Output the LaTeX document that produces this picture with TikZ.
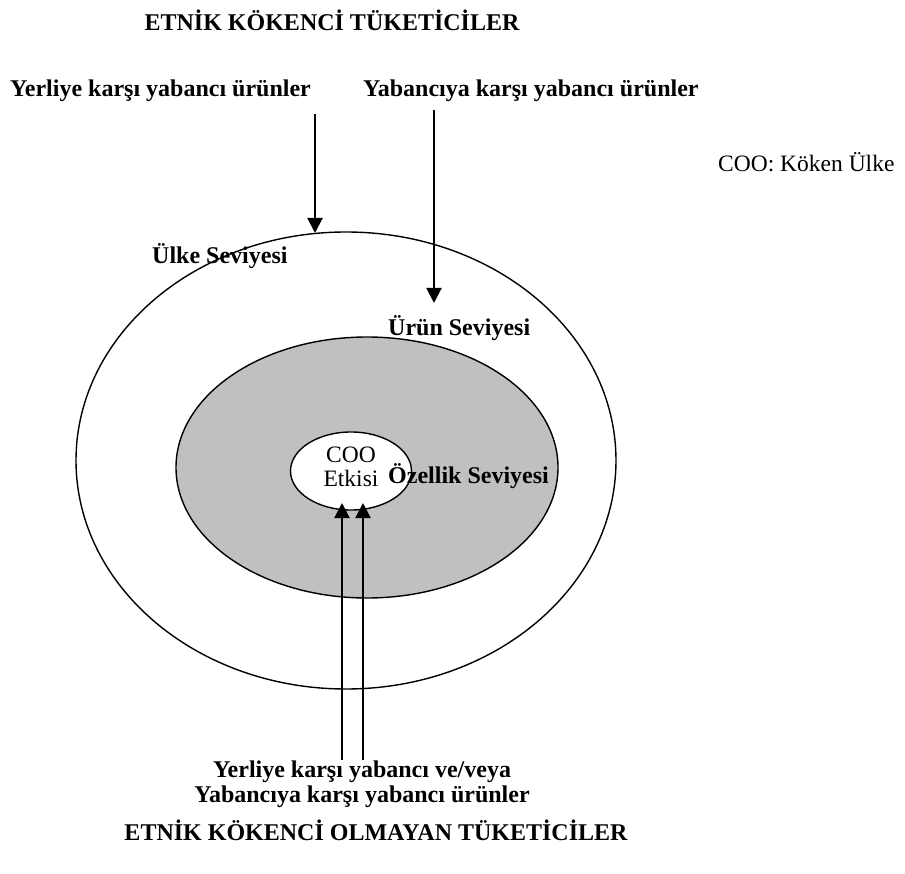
\documentclass[tikz,border=0pt]{standalone}
\usepackage{fontspec}
\setmainfont{Liberation Serif}
\usetikzlibrary{shapes.geometric,arrows.meta}
\definecolor{levelgray}{RGB}{192,192,192}
\begin{document}
\begin{tikzpicture}[x=1pt,y=-1pt,
  level/.style={ellipse,draw,line width=1.4pt,inner sep=0pt},
  lbl/.style={font=\fontsize{24}{25}\selectfont\bfseries,inner sep=0pt},
  plain/.style={font=\fontsize{23.5}{24}\selectfont,inner sep=0pt},
  flow/.style={line width=2pt,-{Triangle[width=15pt,length=15pt]}}]
\useasboundingbox (0,0) rectangle (905,874);

% nested levels
\node[level,fill=white,minimum width=540pt,minimum height=457pt] (country) at (346,460.5) {};
\node[level,fill=levelgray,minimum width=382pt,minimum height=261pt] (product) at (367,467.5) {};
\node[level,fill=white,minimum width=121pt,minimum height=78pt] (coo) at (351,471) {};
\node[plain,align=center] (cootext) at (351,467) {COO\\Etkisi};

% level labels
\node[lbl,anchor=west] (lcountry) at (152,256) {Ülke Seviyesi};
\node[lbl,anchor=west] (lproduct) at (388,328) {Ürün Seviyesi};
\node[lbl,anchor=west] (lfeature) at (388,476) {Özellik Seviyesi};

% headings
\node[lbl] (ethno) at (332,20) {ETNİK KÖKENCİ TÜKETİCİLER};
\node[lbl] (nonethno) at (376,830) {ETNİK KÖKENCİ OLMAYAN TÜKETİCİLER};
\node[lbl,anchor=west] (dom) at (10,91) {Yerliye karşı yabancı ürünler};
\node[lbl,anchor=west] (for) at (363,91) {Yabancıya karşı yabancı ürünler};
\node[plain,anchor=west] (legend) at (718,162) {COO: Köken Ülke};
\node[lbl,align=center] (both) at (362,784) {Yerliye karşı yabancı ve/veya\\Yabancıya karşı yabancı ürünler};

% arrows
\coordinate (a1s) at (315,114);
\coordinate (a1e) at (315,233);
\coordinate (a2s) at (434,110);
\coordinate (a2e) at (434,303);
\coordinate (b1s) at (342,760);
\coordinate (b1e) at (342,503);
\coordinate (b2s) at (363,760);
\coordinate (b2e) at (363,503);
\draw[flow] (a1s) -- (a1e);
\draw[flow] (a2s) -- (a2e);
\draw[flow] (b1s) -- (b1e);
\draw[flow] (b2s) -- (b2e);
\end{tikzpicture}
\end{document}
